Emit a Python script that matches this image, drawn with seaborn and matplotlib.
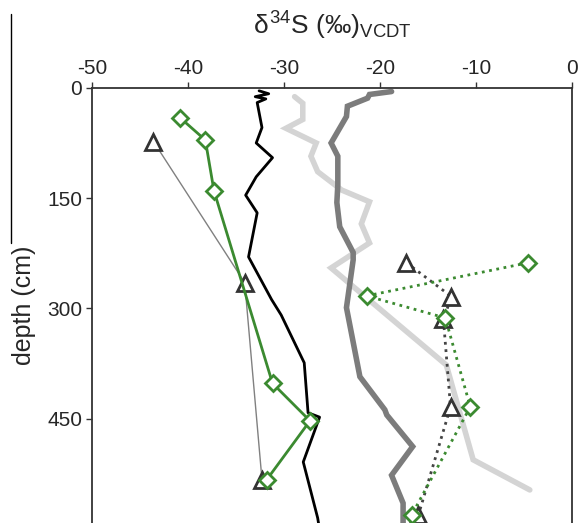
import numpy as np
import pandas as pd
import seaborn as sns
import matplotlib.pyplot as plt
from matplotlib.lines import Line2D

# === DATA ===

# black porewater-like profile
black_d34s = [-32.6, -31.6, -33.0, -31.9, -32.8, -32.3, -32.9, -31.2, -32.9, -34.0,
              -32.8, -33.7, -31.3, -30.3, -27.9, -27.5, -26.3, -28.0, -26.5, -26.3]
black_depth = [4, 8, 12, 15, 20, 54, 75, 95, 121, 146,
               170, 230, 288, 309, 374, 442, 448, 509, 585, 601]

# dark grey thick profile
dark_d34s = [-18.8, -21.1, -21.3, -23.4, -23.5, -25.1, -24.4, -24.4, -24.5, -24.2,
             -22.8, -22.8, -23.5, -22.1, -19.5, -19.3, -16.6, -18.8, -17.6, -17.6]
dark_depth = [5, 9, 14, 25, 39, 75, 93, 132, 156, 189,
              224, 234, 299, 393, 438, 445, 488, 527, 565, 600]

# light grey thick profile
light_d34s = [-28.9, -28.05, -28.05, -29.8, -26.65, -27.2, -26.5, -24.0, -21.1, -21.95,
              -21.1, -25.1, -13.1, -10.3, -4.4]
light_depth = [12, 21, 43, 55, 75, 93, 114, 139, 155, 185,
               211, 245, 377, 506, 547]

# solid green diamonds
green_d34s = [-40.8, -38.2, -37.3, -31.2, -27.3, -31.8]
green_depth = [41, 71, 140, 402, 453, 533]

# thin grey triangles
tri_d34s = [-43.6, -34.1, -32.3]
tri_depth = [73, 265, 533]

# dotted green diamonds
gdot_d34s = [-4.6, -21.4, -13.2, -10.6, -16.7]
gdot_depth = [238, 283, 313, 434, 581]

# dotted black triangles
kdot_d34s = [-17.25, -12.56, -13.4, -12.66, -16.0]
kdot_depth = [238, 284, 315, 434, 581]

xticks = [-50, -40, -30, -20, -10, 0]
yticks = [0, 150, 300, 450]

# === PLOT ===

sns.set_style('ticks')
plt.rcParams['font.family'] = ['Liberation Sans', 'DejaVu Sans']
plt.rcParams['axes.unicode_minus'] = False
plt.rcParams['mathtext.fontset'] = 'custom'
plt.rcParams['mathtext.rm'] = 'Liberation Sans'
plt.rcParams['mathtext.it'] = 'Liberation Sans'

fig = plt.figure(figsize=(5.79, 5.23), dpi=100)
ax = fig.add_axes([0.159, 0.0, 0.829, 0.832])

green = '#3b8a30'

def profile(x, y, **kw):
    sns.lineplot(x=x, y=y, sort=False, estimator=None, ax=ax, **kw)

profile(light_d34s, light_depth, color='#d4d4d4', linewidth=4, solid_joinstyle='miter')
profile(dark_d34s, dark_depth, color='#7c7c7c', linewidth=4, solid_joinstyle='miter')
profile(black_d34s, black_depth, color='black', linewidth=2)

profile(tri_d34s, tri_depth, color='#808080', linewidth=1, marker='^',
        markersize=11, markerfacecolor='white', markeredgecolor='#333333',
        markeredgewidth=2)
profile(green_d34s, green_depth, color=green, linewidth=2, marker='D',
        markersize=8, markerfacecolor='white', markeredgecolor=green,
        markeredgewidth=2)

profile(kdot_d34s, kdot_depth, color='#444444', linewidth=2, linestyle=':',
        marker='^', markersize=11, markerfacecolor='white',
        markeredgecolor='#333333', markeredgewidth=2)
profile(gdot_d34s, gdot_depth, color=green, linewidth=2, linestyle=':',
        marker='D', markersize=8, markerfacecolor='white',
        markeredgecolor=green, markeredgewidth=2)

ax.set_xlim(-50, 0)
ax.set_ylim(592, 0)
ax.set_xticks(xticks)
ax.set_yticks(yticks)
ax.xaxis.tick_top()
ax.xaxis.set_label_position('top')
ax.tick_params(axis='both', labelsize=15, length=4, width=1, color='#333333', pad=3)
ax.spines['bottom'].set_visible(False)
for s in ['top', 'left', 'right']:
    ax.spines[s].set_visible(True)
    ax.spines[s].set_color('#333333')
    ax.spines[s].set_linewidth(1.3)

ax.set_xlabel(r'$\delta^{34}$S (‰)$_{\mathrm{VCDT}}$', fontsize=19, labelpad=18)
ax.set_ylabel('depth (cm)', fontsize=18, labelpad=8)

# stray vertical rule at the far left of the panel
fig.add_artist(Line2D([0.019, 0.019], [0.973, 0.535], color='black', linewidth=1))

fig.savefig('out.png', dpi=100)
